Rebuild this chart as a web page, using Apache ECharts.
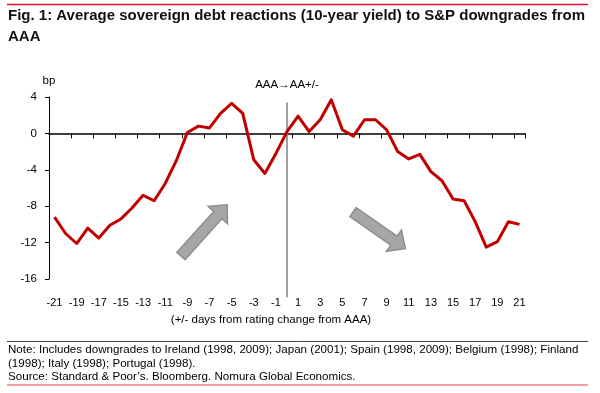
<!DOCTYPE html>
<html>
<head>
<meta charset="utf-8">
<script src="https://cdn.jsdelivr.net/npm/echarts@6/dist/echarts.min.js"></script>
<style>
html,body{margin:0;padding:0;background:#fff;}
#chart{width:600px;height:393px;}
</style>
</head>
<body>
<div id="chart"></div>
<script>
var days = ['-21','-20','-19','-18','-17','-16','-15','-14','-13','-12','-11','-10','-9','-8','-7','-6','-5','-4','-3','-2','-1','0','1','2','3','4','5','6','7','8','9','10','11','12','13','14','15','16','17','18','19','20','21'];
var yieldChange = [-9.2,-11.0,-12.1,-10.4,-11.5,-10.1,-9.4,-8.2,-6.8,-7.4,-5.5,-3.0,0.1,0.8,0.6,2.2,3.3,2.2,-2.9,-4.4,-2.2,0.2,1.9,0.2,1.5,3.7,0.4,-0.3,1.5,1.5,0.4,-2.0,-2.8,-2.3,-4.2,-5.2,-7.2,-7.4,-9.7,-12.5,-11.9,-9.7,-10.0];
var eventDay = '0';
var eventLineRange = [3.4, -18];
var eventLabel = 'AAA\u2192AA+/-';
var yTicks = {min: -16, max: 4, interval: 4};
var titleText = 'Fig. 1: Average sovereign debt reactions (10-year yield) to S&P downgrades from\nAAA';
var noteText = 'Note: Includes downgrades to Ireland (1998, 2009); Japan (2001); Spain (1998, 2009); Belgium (1998); Finland\n(1998); Italy (1998); Portugal (1998).\nSource: Standard & Poor\u2019s. Bloomberg. Nomura Global Economics.';
var xName = '(+/- days from rating change from AAA)';
var yName = 'bp';

var sans = "'Liberation Sans', Arial, sans-serif";

function arrow(len) {
  var hb = len - 14;
  return [[0,-5.5],[hb,-5.5],[hb,-13],[len,0],[hb,13],[hb,5.5],[0,5.5]];
}

var chart = echarts.init(document.getElementById('chart'), null, {renderer: 'canvas'});
var option = {
  animation: false,
  backgroundColor: '#fff',
  title: [{
    text: titleText,
    left: 8, top: 5, padding: 0,
    textStyle: {fontFamily: sans, fontSize: 15, fontWeight: 'bold', color: '#111', lineHeight: 21.5}
  }, {
    text: noteText,
    left: 8, top: 343.5, padding: 0,
    textStyle: {fontFamily: sans, fontSize: 11.6, fontWeight: 'normal', color: '#000', lineHeight: 13.3}
  }],
  grid: {left: 49, top: 97, width: 476, height: 182, containLabel: false},
  xAxis: [{
    type: 'category', data: days, position: 'bottom', boundaryGap: true,
    axisLine: {show: true, onZero: true, lineStyle: {color: '#000', width: 1.5}},
    axisTick: {show: true, interval: 1, length: 5, inside: false, lineStyle: {color: '#000', width: 1}},
    axisLabel: {show: false},
    splitLine: {show: false}
  }, {
    type: 'category', data: days, position: 'bottom', boundaryGap: true,
    axisLine: {show: false, onZero: false},
    axisTick: {show: false},
    axisLabel: {show: true, interval: 1, margin: 18, fontFamily: sans, fontSize: 11, color: '#000'},
    name: xName, nameLocation: 'middle', nameGap: 35,
    nameTextStyle: {fontFamily: sans, fontSize: 11.5, color: '#000', padding: [0, 32, 0, 0]},
    splitLine: {show: false}
  }],
  yAxis: {
    type: 'value', min: yTicks.min, max: yTicks.max, interval: yTicks.interval,
    name: yName, nameLocation: 'end', nameGap: 10,
    nameTextStyle: {fontFamily: sans, fontSize: 11.5, color: '#000'},
    axisLine: {show: true, onZero: false, lineStyle: {color: '#000', width: 1}},
    axisTick: {show: true, length: 4, inside: false, lineStyle: {color: '#000'}},
    axisLabel: {margin: 12, fontFamily: sans, fontSize: 11.5, color: '#000'},
    splitLine: {show: false}
  },
  series: [{
    type: 'line', xAxisIndex: 0, silent: true, clip: false,
    data: [
      {value: [eventDay, eventLineRange[0]], label: {show: true, position: 'top', distance: 12, formatter: eventLabel, fontFamily: sans, fontSize: 11.5, color: '#000'}},
      [eventDay, eventLineRange[1]]
    ],
    showSymbol: true, symbolSize: 0,
    lineStyle: {color: '#808080', width: 1.5},
    itemStyle: {color: '#808080'},
    z: 1
  }, {
    type: 'line', xAxisIndex: 0, data: yieldChange,
    showSymbol: false, symbol: 'none', smooth: false,
    lineStyle: {color: '#C00000', width: 3, join: 'round'},
    z: 3
  }],
  graphic: [
    {type: 'line', shape: {x1: 7, y1: 4.5, x2: 588, y2: 4.5}, style: {stroke: '#e8112d', lineWidth: 1.5}},
    {type: 'line', shape: {x1: 7, y1: 341.5, x2: 588, y2: 341.5}, style: {stroke: '#444', lineWidth: 1}},
    {type: 'line', shape: {x1: 7, y1: 385, x2: 588, y2: 385}, style: {stroke: '#ee8088', lineWidth: 1.5}},
    {type: 'polygon', x: 181, y: 256, rotation: 48 * Math.PI / 180, shape: {points: arrow(69)},
      style: {fill: '#a6a6a6', stroke: '#8f8f8f', lineWidth: 1.5}, z: 5},
    {type: 'polygon', x: 353, y: 212, rotation: -35 * Math.PI / 180, shape: {points: arrow(64)},
      style: {fill: '#a6a6a6', stroke: '#8f8f8f', lineWidth: 1.5}, z: 5}
  ]
};
chart.setOption(option);
</script>
</body>
</html>
